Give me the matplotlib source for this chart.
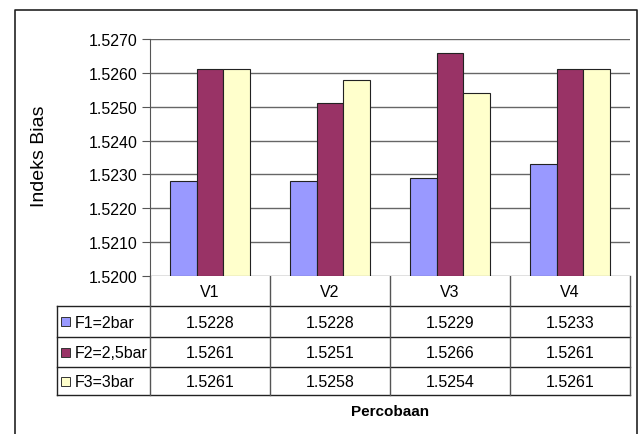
import matplotlib
matplotlib.use("Agg")
import matplotlib.pyplot as plt
from matplotlib.lines import Line2D
from matplotlib.patches import Rectangle
import numpy as np

plt.rcParams['font.family'] = ['Liberation Sans', 'DejaVu Sans']

categories = ["V1", "V2", "V3", "V4"]
series_names = ["F1=2bar", "F2=2,5bar", "F3=3bar"]
f1_values = [1.5228, 1.5228, 1.5229, 1.5233]
f2_values = [1.5261, 1.5251, 1.5266, 1.5261]
f3_values = [1.5261, 1.5258, 1.5254, 1.5261]
series_colors = ["#9999FF", "#993366", "#FFFFCC"]
y_ticks = [1.5200, 1.5210, 1.5220, 1.5230, 1.5240, 1.5250, 1.5260, 1.5270]

W, H = 642, 435
fig = plt.figure(figsize=(W / 100, H / 100), dpi=100)
FS = 11.5


def px_box(x0, y0, x1, y1):
    """Convert a pixel box (top-left origin) to figure fractions."""
    return [x0 / W, 1 - y1 / H, (x1 - x0) / W, (y1 - y0) / H]


# Outer chart frame (bottom edge runs off the canvas)
frame = fig.add_axes([0, 0, 1, 1])
frame.set_xlim(0, W)
frame.set_ylim(H, 0)
frame.axis("off")
frame.add_line(Line2D([15, 15, 637, 637], [440, 11, 11, 440], color="#222222", lw=1.2))

# Plot area
x_left, x_right, y_top, y_bot = 150, 630, 40, 277
ax = fig.add_axes(px_box(x_left, y_top, x_right, y_bot))
series = [f1_values, f2_values, f3_values]
x = np.arange(len(categories))
bw = 1 / 4.5
for i, (vals, col) in enumerate(zip(series, series_colors)):
    ax.bar(x + (i - 1) * bw, np.array(vals) - y_ticks[0], bottom=y_ticks[0], width=bw,
           color=col, edgecolor="#222222", linewidth=0.8, zorder=3)

ax.set_xlim(-0.5, len(categories) - 0.5)
ax.set_ylim(y_ticks[0], y_ticks[-1])
ax.set_yticks(y_ticks)
ax.set_yticklabels([f"{v:.4f}" for v in y_ticks], fontsize=FS)
ax.set_xticks([])
ax.yaxis.grid(True, color="#666666", lw=1, zorder=0)
for s in ["top", "right", "bottom"]:
    ax.spines[s].set_visible(False)
ax.spines["left"].set_color("#555555")
ax.tick_params(axis="y", length=6, color="#555555", pad=3)

frame.text(40, 156, "Indeks Bias", rotation=90, ha="center", va="center", fontsize=14)

# Data table under the plot
row_edges = [277, 307, 338, 368, 396]
col_w = (x_right - x_left) / len(categories)
col_edges = [x_left + k * col_w for k in range(len(categories) + 1)]
label_left = 57
line_kw = dict(color="#222222", lw=1.0)

# horizontal rules
for y in row_edges[1:]:
    frame.add_line(Line2D([label_left, x_right], [y, y], **line_kw))
# vertical rules
frame.add_line(Line2D([label_left, label_left], [row_edges[1], row_edges[-1]], **line_kw))
for xe in col_edges:
    frame.add_line(Line2D([xe, xe], [row_edges[0], row_edges[-1]], color="#555555", lw=1.0))

# header row
for k, cat in enumerate(categories):
    cx = (col_edges[k] + col_edges[k + 1]) / 2
    frame.text(cx, (row_edges[0] + row_edges[1]) / 2 + 1, cat, ha="center", va="center", fontsize=FS)

# series rows
for r, (name, vals, col) in enumerate(zip(series_names, series, series_colors)):
    yc = (row_edges[r + 1] + row_edges[r + 2]) / 2
    frame.add_patch(Rectangle((61, yc - 4.5), 8.5, 9, facecolor=col, edgecolor="#333333", lw=0.7))
    frame.text(75, yc + 1, name, ha="left", va="center", fontsize=FS)
    for k, v in enumerate(vals):
        cx = (col_edges[k] + col_edges[k + 1]) / 2
        frame.text(cx, yc + 1, f"{v:.4f}", ha="center", va="center", fontsize=FS)

frame.text((x_left + x_right) / 2, 412, "Percobaan", ha="center", va="center",
           fontsize=11, fontweight="bold")

fig.savefig("out.png", dpi=100)
